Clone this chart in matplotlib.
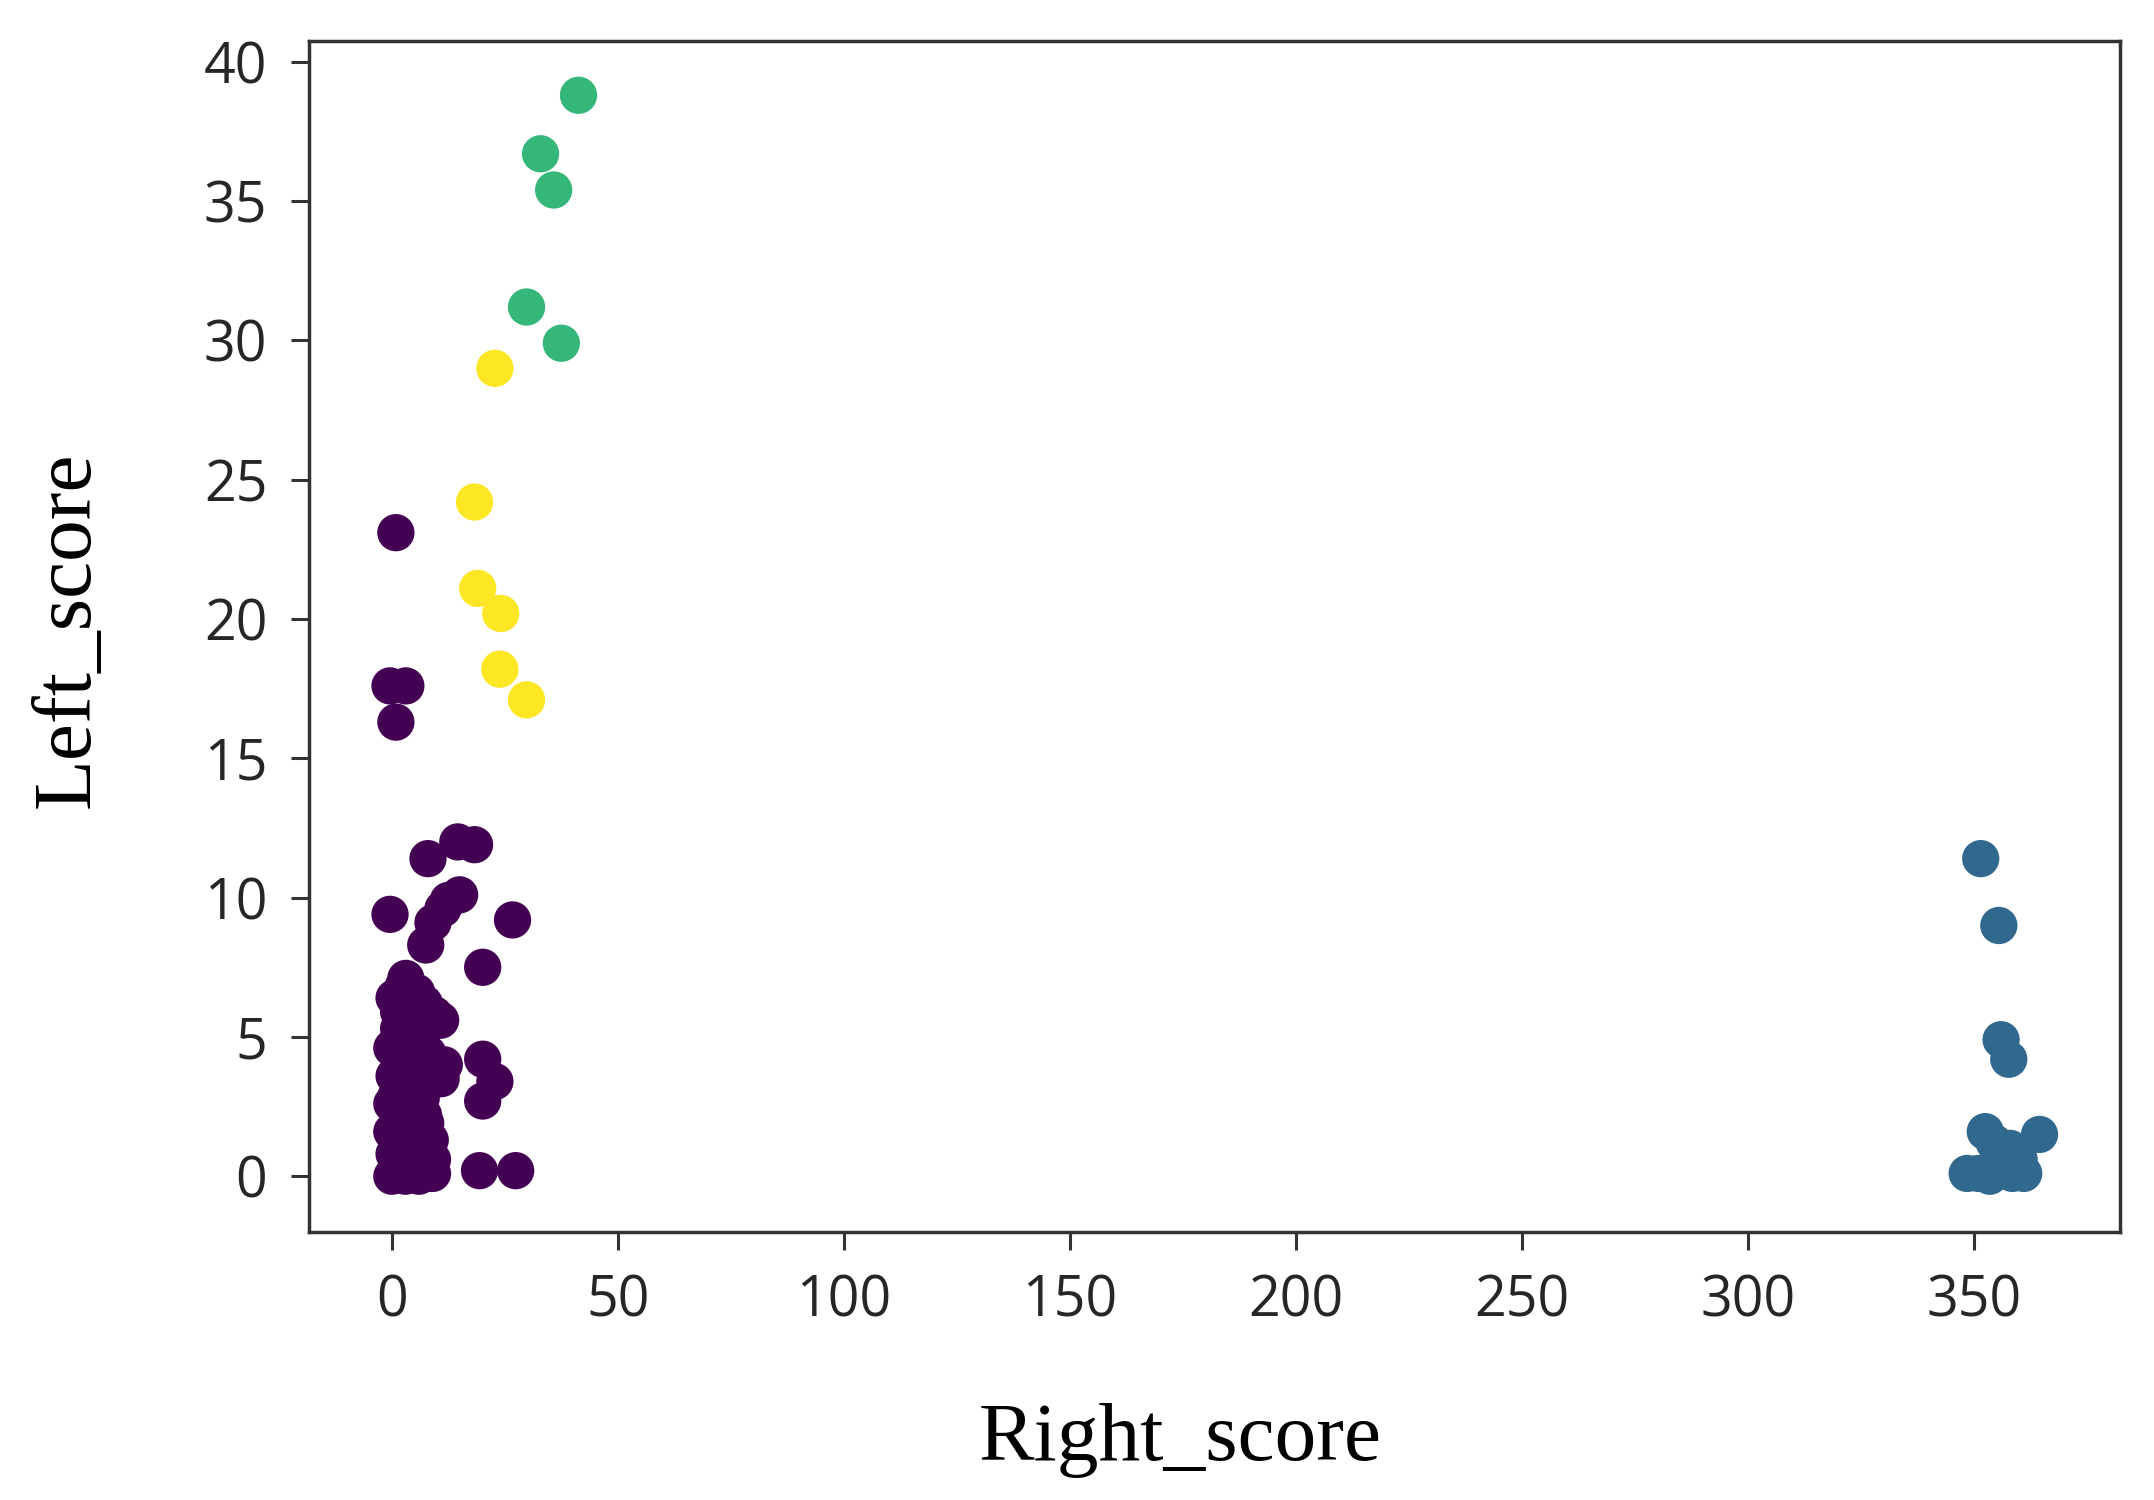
import numpy as np
import matplotlib.pyplot as plt

# cluster 0 (purple) - big group near the origin
purple_x = [0.9, -0.4, 3.1, 0.9,
            14.6, 18.3, 8.0, -0.4, 26.7, 15.0, 12.5, 11.3, 9.1, 7.5, 20.1,
            3.1, 0.5, 5.5, 7.2, 9.4, 10.8, 1.5, 4.0, 6.5,
            0.0, 2.5, 5.0, 8.0, 11.6, 10.9, 0.5, 3.5, 6.5,
            20.1, 22.8, 20.1, 0.0, 2.0, 4.5, 7.0,
            0.0, 3.0, 6.0, 8.5, 0.5, 2.5, 5.0, 9.0,
            0.0, 1.5, 3.0, 4.5, 6.0, 7.5, 9.0, 19.4, 27.4,
            1.5, 4.5, 7.5, 1.0, 4.0, 6.5, 2.0, 5.5, 8.0,
            1.0, 3.5, 6.0, 1.5, 4.0, 2.5, 5.0, 3.0]
purple_y = [23.1, 17.6, 17.6, 16.3,
            12.0, 11.9, 11.4, 9.4, 9.2, 10.1, 9.9, 9.6, 9.1, 8.3, 7.5,
            7.1, 6.4, 6.6, 6.2, 5.8, 5.6, 5.3, 5.5, 4.9,
            4.6, 4.3, 4.1, 4.4, 4.0, 3.5, 3.6, 3.3, 3.2,
            4.2, 3.4, 2.7, 2.6, 2.3, 2.5, 2.2,
            1.6, 1.5, 1.4, 1.3, 0.8, 0.7, 0.9, 0.6,
            0.0, 0.1, 0.0, 0.1, 0.0, 0.2, 0.1, 0.2, 0.2,
            1.9, 1.8, 1.9, 2.9, 3.0, 2.8, 3.9, 3.7, 3.5,
            4.8, 5.0, 4.7, 5.9, 6.1, 6.8, 6.5, 1.1]

# cluster 1 (blue) - far right
blue_x = [351.5, 355.5, 356.0, 357.7, 364.5, 352.5, 354.5, 358.0,
          348.5, 351.0, 353.5, 356.0, 358.5, 361.0, 360.0]
blue_y = [11.4, 9.0, 4.9, 4.2, 1.5, 1.6, 1.2, 1.0,
          0.1, 0.1, 0.0, 0.3, 0.1, 0.1, 0.6]

# cluster 2 (green)
green_x = [41.3, 32.9, 35.8, 29.8, 37.5]
green_y = [38.8, 36.7, 35.4, 31.2, 29.9]

# cluster 3 (yellow)
yellow_x = [22.8, 18.3, 19.0, 24.1, 23.9, 29.8]
yellow_y = [29.0, 24.2, 21.1, 20.2, 18.2, 17.1]

right_score = np.array(purple_x + blue_x + green_x + yellow_x)
left_score = np.array(purple_y + blue_y + green_y + yellow_y)
labels = np.array([0] * len(purple_x) + [1] * len(blue_x)
                  + [2] * len(green_x) + [3] * len(yellow_x))

fig = plt.figure(figsize=(21.54, 15), dpi=100)
ax = fig.add_axes([0.1435, 0.1787, 0.8407, 0.794])

ax.scatter(right_score, left_score, c=labels, cmap='viridis', s=720,
           linewidths=0, vmin=0, vmax=3)

ax.set_xlim(-18.3, 382.3)
ax.set_ylim(-2.0, 40.75)
ax.set_xticks(np.arange(0, 351, 50))
ax.set_yticks(np.arange(0, 41, 5))

edge = '#333333'
for sp in ax.spines.values():
    sp.set_linewidth(2.5)
    sp.set_color(edge)
ax.tick_params(length=13, width=2.2, color=edge, pad=17,
               labelsize=40, labelcolor='#262626')
for lab in ax.get_xticklabels() + ax.get_yticklabels():
    lab.set_family('Open Sans')

ax.set_xlabel('Right_score', family='Liberation Serif', fontsize=60)
ax.xaxis.set_label_coords(0.481, -0.1914)
ax.xaxis.label.set_verticalalignment('baseline')

ax.set_ylabel('Left_score', family='Liberation Serif', fontsize=60)
ax.yaxis.set_label_coords(-0.122, 0.5055)
ax.yaxis.label.set_horizontalalignment('center')
ax.yaxis.label.set_verticalalignment('baseline')

fig.savefig('out.png', dpi=100)
